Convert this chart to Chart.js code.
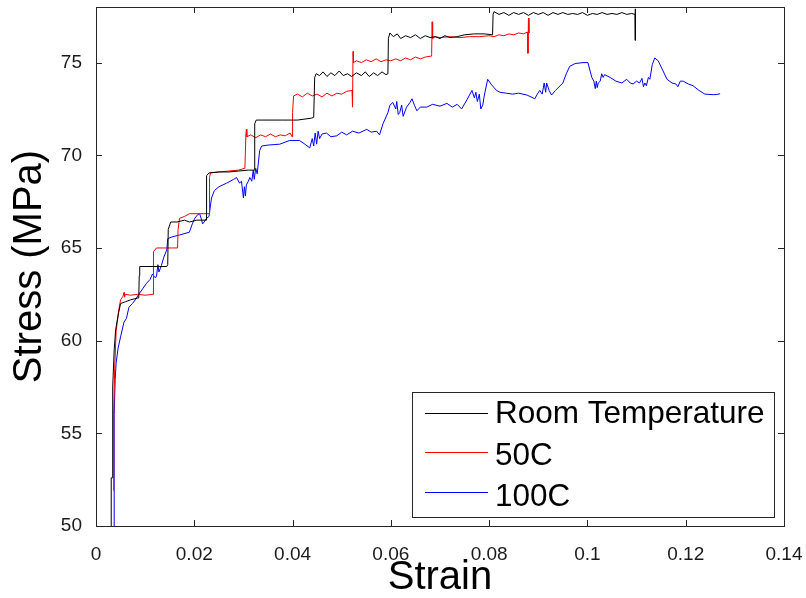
<!DOCTYPE html>
<html>
<head>
<meta charset="utf-8">
<script src="https://cdn.jsdelivr.net/npm/chart.js@4.4.1/dist/chart.umd.min.js"></script>
<style>
html,body{margin:0;padding:0;background:#fff;}
canvas{display:block;}
</style>
</head>
<body>
<canvas id="c" width="806" height="598"></canvas>
<script>
const seriesLabels = ['Room Temperature', '50C', '100C'];
const seriesColors = ['#000000', '#ff0000', '#0000ff'];

const xTickValues = [0, 0.02, 0.04, 0.06, 0.08, 0.1, 0.12, 0.14];
const xTickLabels = ['0', '0.02', '0.04', '0.06', '0.08', '0.1', '0.12', '0.14'];
const yTickValues = [50, 55, 60, 65, 70, 75];
const yTickLabels = ['50', '55', '60', '65', '70', '75'];

const rtStrain = [0.0031,0.0031,0.0034,0.0034,0.0037,0.0040,0.0046,0.0050,0.0060,0.0070,0.0085,0.0087,0.0088,0.0089,0.0100,0.0120,0.0144,0.0146,0.0147,0.0152,0.0165,0.0180,0.0190,0.0205,0.0224,0.0225,0.0230,0.0250,0.0270,0.0290,0.0310,0.0322,0.0323,0.0326,0.0350,0.0380,0.0410,0.0438,0.0443,0.0445,0.0448,0.0455,0.0462,0.0470,0.0478,0.0486,0.0495,0.0503,0.0512,0.0520,0.0530,0.0540,0.0548,0.0556,0.0565,0.0573,0.0582,0.0590,0.0594,0.0595,0.0598,0.0605,0.0613,0.0620,0.0630,0.0640,0.0650,0.0660,0.0670,0.0680,0.0690,0.0700,0.0710,0.0720,0.0735,0.0750,0.0770,0.0790,0.0807,0.0808,0.0810,0.0820,0.0830,0.0840,0.0850,0.0860,0.0870,0.0880,0.0890,0.0900,0.0910,0.0920,0.0930,0.0940,0.0950,0.0960,0.0970,0.0980,0.0990,0.1000,0.1010,0.1020,0.1030,0.1040,0.1050,0.1060,0.1070,0.1080,0.1090,0.1097,0.1097,0.1098];
const rtStress = [49.9,52.6,52.6,57.5,59.5,60.6,61.5,62.0,62.1,62.2,62.3,62.3,63.5,64.0,64.0,64.0,64.0,64.1,66.0,66.4,66.4,66.5,66.4,66.5,66.5,68.9,69.05,69.1,69.1,69.15,69.2,69.2,71.7,71.9,71.9,71.9,71.9,72.0,72.05,74.2,74.4,74.3,74.5,74.25,74.45,74.3,74.55,74.3,74.4,74.25,74.45,74.3,74.5,74.25,74.45,74.3,74.5,74.35,74.4,76.3,76.6,76.4,76.55,76.3,76.45,76.35,76.5,76.3,76.45,76.35,76.4,76.3,76.45,76.35,76.4,76.5,76.55,76.55,76.5,77.6,77.75,77.6,77.7,77.55,77.7,77.6,77.7,77.55,77.7,77.6,77.7,77.55,77.7,77.6,77.7,77.6,77.65,77.6,77.7,77.55,77.65,77.6,77.7,77.6,77.65,77.6,77.7,77.6,77.65,77.6,77.9,76.2];

const c50Strain = [0.0036,0.0036,0.0038,0.0041,0.0046,0.0050,0.0055,0.0057,0.0058,0.0060,0.0070,0.0085,0.0100,0.0116,0.0117,0.0123,0.0140,0.0155,0.0166,0.0167,0.0170,0.0180,0.0190,0.0210,0.0230,0.0231,0.0233,0.0250,0.0270,0.0290,0.0303,0.0305,0.0306,0.0307,0.0315,0.0325,0.0335,0.0345,0.0355,0.0365,0.0375,0.0385,0.0395,0.0399,0.0400,0.0402,0.0410,0.0420,0.0430,0.0440,0.0450,0.0460,0.0470,0.0480,0.0490,0.0500,0.0510,0.0521,0.0522,0.0523,0.0524,0.0530,0.0540,0.0550,0.0560,0.0570,0.0580,0.0590,0.0600,0.0610,0.0620,0.0630,0.0640,0.0650,0.0660,0.0670,0.0682,0.0683,0.0684,0.0685,0.0690,0.0700,0.0720,0.0740,0.0760,0.0780,0.0800,0.0810,0.0820,0.0830,0.0840,0.0850,0.0860,0.0870,0.0878,0.0879,0.0880,0.0881];
const c50Stress = [51.9,56.0,58.5,60.5,61.6,62.2,62.4,62.6,62.35,62.5,62.45,62.5,62.45,62.5,64.8,65.0,65.0,65.0,65.0,66.0,66.6,66.7,66.85,66.85,66.85,68.8,69.05,69.1,69.15,69.2,69.3,71.1,71.4,71.0,71.1,70.95,71.1,71.0,71.15,71.0,71.1,71.05,71.2,71.0,72.3,73.2,73.3,73.15,73.35,73.2,73.3,73.15,73.35,73.2,73.35,73.3,73.45,73.5,72.6,75.6,75.0,75.1,75.0,75.15,75.05,75.2,75.05,75.15,75.1,75.2,75.1,75.25,75.15,75.3,75.2,75.3,75.35,75.5,77.2,76.3,76.4,76.35,76.4,76.35,76.4,76.4,76.45,76.4,76.5,76.45,76.55,76.5,76.6,76.55,76.65,75.5,77.4,76.6];

const c100Strain = [0.0037,0.0037,0.0039,0.0041,0.0045,0.0050,0.0057,0.0062,0.0067,0.0074,0.0080,0.0087,0.0095,0.0103,0.0110,0.0115,0.0120,0.0123,0.0126,0.0128,0.0133,0.0138,0.0144,0.0146,0.0155,0.0170,0.0190,0.0196,0.0201,0.0207,0.0211,0.0215,0.0217,0.0220,0.0225,0.0230,0.0235,0.0241,0.0250,0.0266,0.0280,0.0286,0.0292,0.0296,0.0300,0.0302,0.0304,0.0306,0.0310,0.0313,0.0317,0.0320,0.0322,0.0325,0.0328,0.0333,0.0337,0.0350,0.0374,0.0394,0.0414,0.0425,0.0435,0.0440,0.0443,0.0446,0.0449,0.0452,0.0455,0.0460,0.0469,0.0478,0.0490,0.0500,0.0510,0.0522,0.0535,0.0551,0.0560,0.0571,0.0577,0.0584,0.0594,0.0598,0.0604,0.0610,0.0612,0.0615,0.0618,0.0622,0.0625,0.0632,0.0639,0.0643,0.0648,0.0653,0.0660,0.0673,0.0685,0.0700,0.0714,0.0725,0.0735,0.0744,0.0755,0.0765,0.0770,0.0773,0.0776,0.0780,0.0783,0.0787,0.0790,0.0797,0.0805,0.0815,0.0822,0.0835,0.0848,0.0860,0.0877,0.0893,0.0898,0.0903,0.0908,0.0912,0.0915,0.0917,0.0922,0.0927,0.0935,0.0950,0.0957,0.0964,0.0975,0.0991,0.1001,0.1005,0.1009,0.1013,0.1016,0.1018,0.1020,0.1022,0.1026,0.1029,0.1032,0.1035,0.1046,0.1058,0.1070,0.1080,0.1087,0.1093,0.1100,0.1106,0.1111,0.1114,0.1117,0.1120,0.1124,0.1127,0.1132,0.1137,0.1144,0.1153,0.1162,0.1172,0.1180,0.1184,0.1189,0.1195,0.1205,0.1215,0.1227,0.1239,0.1256,0.1263,0.1270];
const c100Stress = [49.9,56.0,57.9,58.8,59.6,60.2,61.0,61.2,61.8,62.0,62.2,62.5,62.8,63.1,63.3,63.6,63.4,63.45,64.1,63.7,64.05,64.5,64.9,65.5,65.6,65.7,65.85,66.3,66.6,66.8,66.85,66.5,66.3,66.4,66.6,66.7,67.7,68.1,68.3,68.5,68.7,68.8,68.5,68.6,67.7,68.3,67.8,68.4,68.6,68.8,68.6,69.2,68.7,69.3,69.0,70.25,70.5,70.55,70.6,70.8,70.8,70.6,70.4,70.9,70.5,71.2,70.6,71.3,70.9,71.15,71.2,71.0,71.05,71.25,71.1,71.3,71.2,71.4,71.25,71.3,71.1,71.7,72.3,72.7,72.85,72.5,72.9,72.2,72.3,72.7,72.1,72.6,72.85,73.05,72.7,72.4,72.6,72.6,72.75,72.65,72.8,72.6,72.75,72.5,73.0,73.5,73.1,73.4,72.9,73.3,72.5,72.7,73.2,74.1,73.8,73.5,73.4,73.35,73.3,73.35,73.25,73.05,73.3,73.5,73.3,73.9,73.4,73.9,73.5,73.25,73.5,73.9,74.4,74.8,74.95,75.0,75.0,74.6,74.2,74.0,73.6,74.0,73.65,73.9,74.0,74.4,74.2,74.35,74.2,74.0,73.9,74.1,73.9,73.85,74.0,73.9,74.15,73.7,73.9,73.75,74.2,74.1,74.9,75.25,75.1,74.6,74.1,73.9,73.85,73.7,74.0,74.0,73.85,73.75,73.5,73.3,73.27,73.28,73.32];

const strainSets = [rtStrain, c50Strain, c100Strain];
const stressSets = [rtStress, c50Stress, c100Stress];

const FONT = "'Liberation Sans', Arial, sans-serif";

const datasets = seriesLabels.map((lab, i) => ({
  label: lab,
  data: strainSets[i].map((x, k) => ({ x: x, y: stressSets[i][k] })),
  borderColor: seriesColors[i],
  backgroundColor: seriesColors[i],
  borderWidth: 1,
  pointRadius: 0,
  tension: 0,
  fill: false
}));

const framePlugin = {
  id: 'frame',
  afterDraw(chart) {
    const ctx = chart.ctx;
    const a = chart.chartArea;
    const xs = chart.scales.x, ys = chart.scales.y;
    ctx.save();
    ctx.strokeStyle = '#262626';
    ctx.lineWidth = 1;
    ctx.strokeRect(Math.round(a.left) + 0.5, Math.round(a.top) + 0.5, Math.round(a.right - a.left), Math.round(a.bottom - a.top));
    const tl = 6;
    ctx.beginPath();
    xTickValues.forEach(v => {
      const px = Math.round(xs.getPixelForValue(v)) + 0.5;
      ctx.moveTo(px, a.bottom); ctx.lineTo(px, a.bottom - tl);
      ctx.moveTo(px, a.top); ctx.lineTo(px, a.top + tl);
    });
    yTickValues.forEach(v => {
      const py = Math.round(ys.getPixelForValue(v)) + 0.5;
      ctx.moveTo(a.left, py); ctx.lineTo(a.left + tl, py);
      ctx.moveTo(a.right, py); ctx.lineTo(a.right - tl, py);
    });
    ctx.stroke();

    // legend box inside plot area
    const bx = 412, by = 392, bw = 362, bh = 125;
    ctx.fillStyle = '#ffffff';
    ctx.fillRect(bx, by, bw, bh);
    ctx.strokeStyle = '#262626';
    ctx.strokeRect(bx + 0.5, by + 0.5, bw, bh);
    const lineY = [413, 452, 492];
    const textY = [414, 456, 497];
    ctx.font = '31.5px ' + FONT;
    ctx.textBaseline = 'middle';
    ctx.textAlign = 'left';
    chart.data.datasets.forEach((ds, i) => {
      ctx.strokeStyle = ds.borderColor;
      ctx.beginPath();
      ctx.moveTo(425, lineY[i] + 0.5);
      ctx.lineTo(488, lineY[i] + 0.5);
      ctx.stroke();
      ctx.fillStyle = '#000';
      ctx.fillText(ds.label, 495, textY[i]);
    });
    ctx.restore();
  }
};

new Chart(document.getElementById('c'), {
  type: 'line',
  data: { datasets: datasets },
  options: {
    responsive: false,
    animation: false,
    devicePixelRatio: 1,
    layout: { padding: { top: 7, right: 22, left: 0, bottom: 0 } },
    plugins: { legend: { display: false }, tooltip: { enabled: false } },
    scales: {
      x: {
        type: 'linear',
        min: 0, max: 0.14,
        grid: { display: false },
        border: { display: false },
        afterBuildTicks: s => { s.ticks = xTickValues.map(v => ({ value: v })); },
        afterFit: s => { s.height = 72; s.paddingLeft = 0; s.paddingRight = 0; },
        ticks: {
          padding: 9,
          color: '#1a1a1a',
          font: { family: FONT, size: 19 },
          maxRotation: 0,
          autoSkip: false,
          callback: (v, i) => xTickLabels[i]
        },
        title: {
          display: true, text: 'Strain', color: '#000',
          font: { family: FONT, size: 40, lineHeight: 1 },
          padding: { top: 0, bottom: 0 }
        }
      },
      y: {
        type: 'linear',
        min: 50, max: 78,
        grid: { display: false },
        border: { display: false },
        afterBuildTicks: s => { s.ticks = yTickValues.map(v => ({ value: v })); },
        afterFit: s => { s.width = 96; s.paddingTop = 0; s.paddingBottom = 0; },
        ticks: {
          padding: 6,
          color: '#1a1a1a',
          font: { family: FONT, size: 19 },
          autoSkip: false,
          callback: (v, i) => yTickLabels[i]
        },
        title: {
          display: true, text: 'Stress (MPa)', color: '#000',
          font: { family: FONT, size: 40, lineHeight: 1 },
          padding: { top: 10, bottom: 0 }
        }
      }
    }
  },
  plugins: [framePlugin]
});
</script>
</body>
</html>
